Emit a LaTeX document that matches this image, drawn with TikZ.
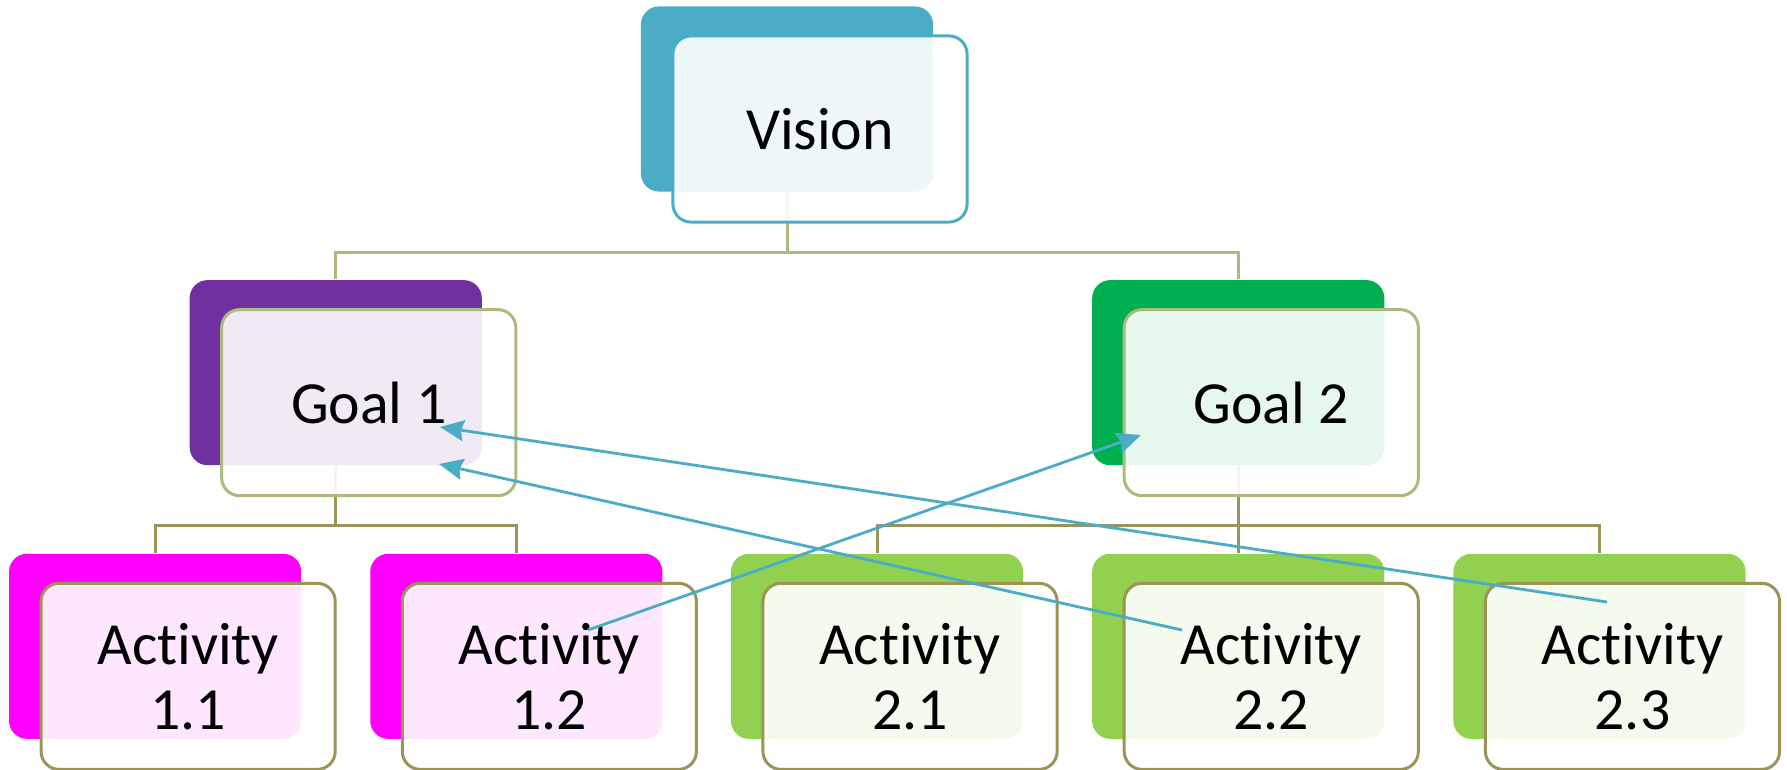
\documentclass[tikz,border=0pt]{standalone}
\usepackage{fontspec}
\setmainfont{Carlito}[Ligatures=NoCommon,RawFeature={-liga;-calt}]
\usepackage{tikz}
\usetikzlibrary{arrows.meta}

\definecolor{visionc}{HTML}{4BACC6}
\definecolor{goalonec}{HTML}{7030A0}
\definecolor{goaltwoc}{HTML}{00B050}
\definecolor{actonec}{HTML}{FF00FF}
\definecolor{acttwoc}{HTML}{92D050}
\definecolor{goalline}{HTML}{A9BB7F}
\definecolor{actline}{HTML}{9C9457}
\definecolor{linkc}{HTML}{4BACC6}

\begin{document}
\begin{tikzpicture}[x=0.01cm,y=-0.01cm,
  level distance=2.735cm,
  level 1/.style={sibling distance=9.02cm,edge from parent/.style={draw=goalline,line width=0.85pt}},
  level 2/.style={sibling distance=3.61cm,edge from parent/.style={draw=actline,line width=0.85pt}},
  edge from parent path={(\tikzparentnode.south) -- ++(0,60) -| (\tikzchildnode.north)},
  back/.style={rectangle,rounded corners=0.18cm,minimum width=2.92cm,minimum height=1.85cm,inner sep=0pt},
  front/.style={rectangle,rounded corners=0.18cm,minimum width=2.94cm,minimum height=1.86cm,inner sep=0pt,fill=white,fill opacity=0.9,text opacity=1,line width=0.85pt,align=center,font=\fontsize{17}{18.5}\selectfont},
  link/.style={draw=linkc,line width=0.8pt,-{Stealth[length=0.24cm,width=0.21cm,inset=0.03cm]}}]
      \useasboundingbox (0,0) rectangle (1787,769);

     \node [back,fill=visionc] (V) at (787,99) {}
     child{
      node [back,fill=goalonec] (G1){}
      child{
	node [back,fill=actonec] (A11){}
      }
      child{
	node [back,fill=actonec] (A12){}
      }
     }
     child{
      node [back,fill=goaltwoc] (G2){}
      child{
	node [back,fill=acttwoc] (A21){}
      }
      child{
	node [back,fill=acttwoc] (A22){}
      }
      child{
	node [back,fill=acttwoc] (A23){}
      }
     };

     % front cards
     \node [front,draw=visionc] (Vf) at ([shift={(33,30)}]V.center) {Vision};
     \node [front,draw=goalline] (G1f) at ([shift={(33,30)}]G1.center) {Goal 1};
     \node [front,draw=goalline] (G2f) at ([shift={(33,30)}]G2.center) {Goal 2};
     \node [front,draw=actline] (A11f) at ([shift={(33,30)}]A11.center) {Activity\\1.1};
     \node [front,draw=actline] (A12f) at ([shift={(33,30)}]A12.center) {Activity\\1.2};
     \node [front,draw=actline] (A21f) at ([shift={(33,30)}]A21.center) {Activity\\2.1};
     \node [front,draw=actline] (A22f) at ([shift={(33,30)}]A22.center) {Activity\\2.2};
     \node [front,draw=actline] (A23f) at ([shift={(33,30)}]A23.center) {Activity\\2.3};

     \coordinate (A12s) at (588,630);
     \coordinate (A22s) at (1182,630);
     \coordinate (A23s) at (1607,602);
     \coordinate (G1a) at (440,427);
     \coordinate (G1b) at (439,464);
     \coordinate (G2a) at (1141,435);

       \path
	(A12s) edge[link] (G2a)
	(A22s) edge[link] (G1b)
	(A23s) edge[link] (G1a);

  \end{tikzpicture}
\end{document}
